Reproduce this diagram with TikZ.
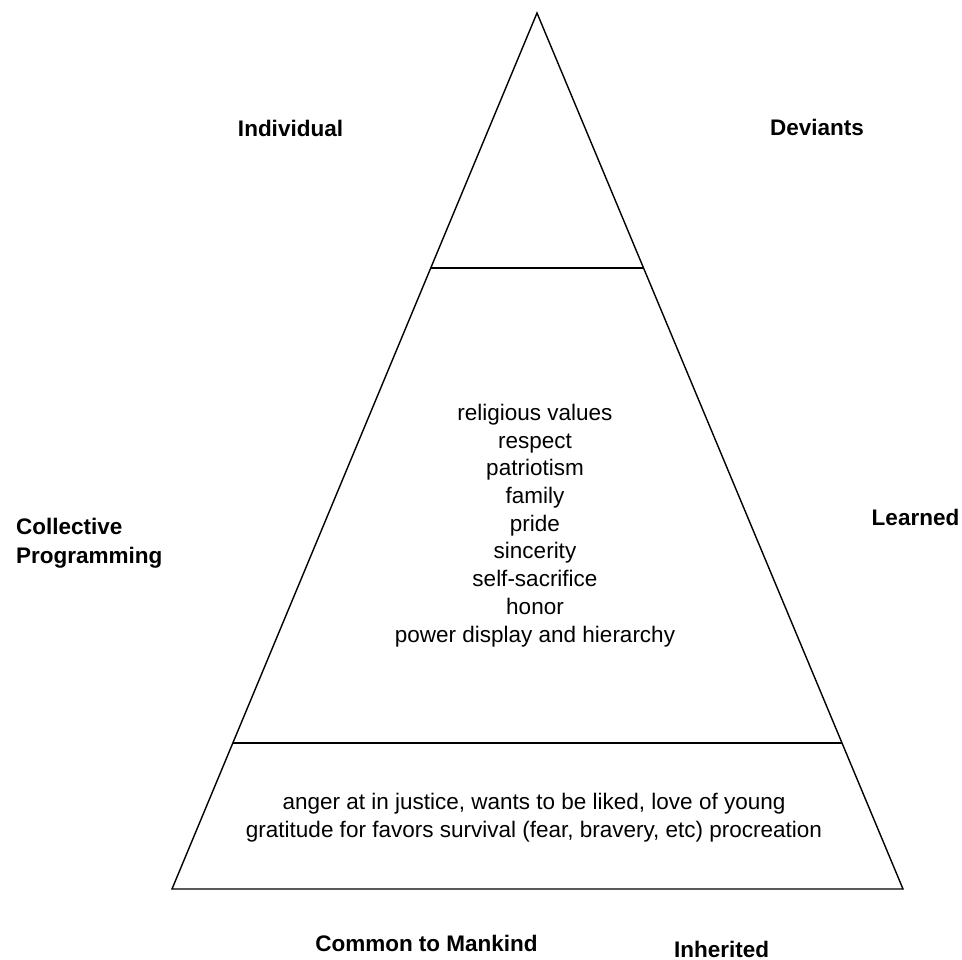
\documentclass[tikz,border=0pt]{standalone}
\usepackage{fontspec}
\setmainfont{Liberation Sans}
\usetikzlibrary{calc}
\begin{document}
\begin{tikzpicture}[x=1pt,y=-1pt,
  edge/.style={line width=1.4pt,line join=miter},
  body/.style={inner sep=0pt,align=center,font=\fontsize{22.5}{27.7}\selectfont},
  lab/.style={inner sep=0pt,align=center,font=\fontsize{22.5}{29}\selectfont\bfseries}]
\useasboundingbox (0,0) rectangle (962,960);
\coordinate (apex) at (537,13);
\coordinate (bl) at (172,889);
\coordinate (br) at (903,889);
\coordinate (t1l) at ($(apex)!0.2911!(bl)$);
\coordinate (t1r) at ($(apex)!0.2911!(br)$);
\coordinate (t2l) at ($(apex)!0.8333!(bl)$);
\coordinate (t2r) at ($(apex)!0.8333!(br)$);
\draw[edge] (apex) -- (bl) -- (br) -- cycle;
\draw[edge] (t1l) -- (t1r);
\draw[edge] (t2l) -- (t2r);
\node[body,anchor=base] (mid) at (535,642) {religious values\\respect\\patriotism\\family\\pride\\sincerity\\self-sacrifice\\honor\\power display and hierarchy};
\node[body,anchor=base] (low) at (534,837) {anger at in justice, wants to be liked, love of young\\gratitude for favors survival (fear, bravery, etc) procreation};
\node[lab,anchor=base] (ind) at (290.5,137) {Individual};
\node[lab,anchor=base] (dev) at (817,136) {Deviants};
\node[lab,anchor=base west,align=left] (col) at (16,563) {Collective\\Programming};
\node[lab,anchor=base] (lea) at (915.5,525) {Learned};
\node[lab,anchor=base] (com) at (426.5,951) {Common to Mankind};
\node[lab,anchor=base] (inh) at (721.5,957) {Inherited};
\end{tikzpicture}
\end{document}
